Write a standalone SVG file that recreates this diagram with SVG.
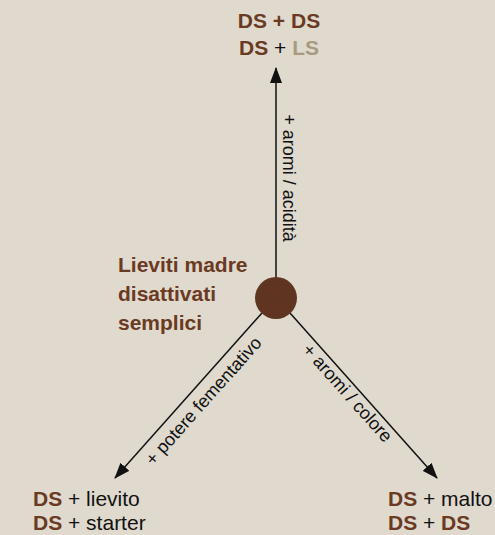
<svg xmlns="http://www.w3.org/2000/svg" width="495" height="535" viewBox="0 0 495 535">
<defs>
<style>
.b{font-family:"Liberation Sans",Arial,sans-serif;font-weight:bold;fill:#6a3a22;font-size:21px}
.r{font-family:"Liberation Sans",Arial,sans-serif;font-weight:normal;fill:#111;font-size:21px}
.l{font-family:"Liberation Sans",Arial,sans-serif;font-size:18px;fill:#111}
.c{stroke:#111;stroke-width:1.5;fill:none;marker-end:url(#ah)}
</style>
<marker id="ah" viewBox="0 0 16 12" refX="15" refY="6" markerWidth="16" markerHeight="12" markerUnits="userSpaceOnUse" orient="auto">
<path d="M0,0 L16,6 L0,12 Z" fill="#111"/>
</marker>
</defs>
<rect width="495" height="535" fill="#dfd9ce"/>
<g id="connectors">
<line class="c" x1="276" y1="277" x2="276" y2="68"/>
<line class="c" x1="262" y1="313" x2="115" y2="478"/>
<line class="c" x1="290" y1="313" x2="437" y2="478"/>
<text class="l" transform="translate(283,178) rotate(90)" text-anchor="middle">+ aromi / acidità</text>
<text class="l" transform="translate(208,405) rotate(-48.3)" text-anchor="middle">+ potere fementativo</text>
<text class="l" transform="translate(343,397) rotate(48.3)" text-anchor="middle">+ aromi / colore</text>
</g>
<g id="center">
<circle cx="276" cy="298" r="21" fill="#5f3420"/>
<text class="b" x="118" y="272">Lieviti madre</text>
<text class="b" x="118" y="301">disattivati</text>
<text class="b" x="118" y="330">semplici</text>
</g>
<g id="top">
<text class="b" x="279" y="28" text-anchor="middle">DS + DS</text>
<text class="b" x="279" y="55" text-anchor="middle">DS <tspan class="r">+</tspan> <tspan fill="#a89a80">LS</tspan></text>
</g>
<g id="left">
<text class="b" x="33" y="506">DS <tspan class="r">+ lievito</tspan></text>
<text class="b" x="33" y="530">DS <tspan class="r">+ starter</tspan></text>
</g>
<g id="right">
<text class="b" x="388" y="506">DS <tspan class="r">+ malto</tspan></text>
<text class="b" x="388" y="530">DS <tspan class="r">+</tspan> DS</text>
</g>
</svg>
